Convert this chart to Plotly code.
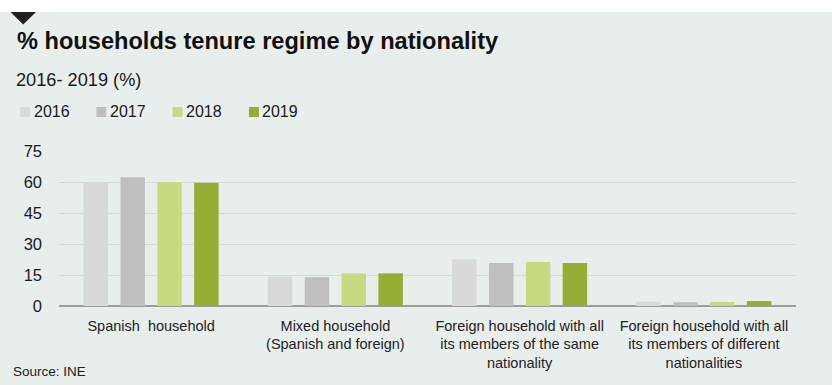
import plotly.graph_objects as go

# Household tenure regime share by nationality of members, 2016-2019 (%)
categories = [
    "Spanish  household",
    "Mixed household<br>(Spanish and foreign)",
    "Foreign household with all<br>its members of the same<br>nationality",
    "Foreign household with all<br>its members of different<br>nationalities",
]
years = ["2016", "2017", "2018", "2019"]
values_2016 = [60.0, 14.2, 22.6, 2.1]
values_2017 = [62.3, 13.9, 20.8, 1.8]
values_2018 = [59.9, 15.8, 21.3, 1.9]
values_2019 = [59.6, 15.8, 20.8, 2.4]
series = [values_2016, values_2017, values_2018, values_2019]
colors = ["#d9d9d9", "#bfbfbf", "#c8da80", "#96ae34"]
y_ticks = [0, 15, 30, 45, 60, 75]

title_text = "% households tenure regime by nationality"
subtitle_text = "2016- 2019 (%)"
source_text = "Source: INE"

BG = "#e8eeec"
FONT = "Liberation Sans, Arial, sans-serif"
W, H = 832, 385
L, R, T, B = 59, 796, 151, 306


def px_x(x):
    return (x - L) / (R - L)


def px_y(y):
    return (B - y) / (B - T)


fig = go.Figure()
for year, vals, col in zip(years, series, colors):
    fig.add_trace(go.Bar(
        name=year, x=categories, y=vals,
        marker=dict(color=col, line=dict(width=0)),
        hovertemplate="%{y}<extra>" + year + "</extra>",
    ))

shapes = [
    # white strip across the top
    dict(type="rect", xref="paper", yref="paper",
         x0=px_x(0), x1=px_x(W), y0=px_y(12), y1=px_y(-2),
         fillcolor="white", line=dict(width=0), layer="above"),
    # marker triangle
    dict(type="path", xref="paper", yref="paper",
         path=f"M {px_x(10.5)},{px_y(12)} L {px_x(36)},{px_y(12)} "
              f"L {px_x(23.2)},{px_y(24.5)} Z",
         fillcolor="#231f20", line=dict(width=0), layer="above"),
]
annotations = [
    dict(text=f"<b>{title_text}</b>", xref="paper", yref="paper",
         x=px_x(14.5), y=px_y(41), xanchor="left", yanchor="middle",
         showarrow=False, font=dict(family=FONT, size=23.6, color="#111111")),
    dict(text=subtitle_text, xref="paper", yref="paper",
         x=px_x(14), y=px_y(80), xanchor="left", yanchor="middle",
         showarrow=False, font=dict(family=FONT, size=18.2, color="#1a1a1a")),
    dict(text=source_text, xref="paper", yref="paper",
         x=px_x(11), y=px_y(371), xanchor="left", yanchor="middle",
         showarrow=False, font=dict(family=FONT, size=13.5, color="#222222")),
]

# legend row: swatch + label per year
step = 76.3
for i, (year, col) in enumerate(zip(years, colors)):
    x0 = 20 + step * i
    shapes.append(dict(type="rect", xref="paper", yref="paper",
                       x0=px_x(x0), x1=px_x(x0 + 10),
                       y0=px_y(117), y1=px_y(107),
                       fillcolor=col, line=dict(width=0)))
    annotations.append(dict(text=year, xref="paper", yref="paper",
                            x=px_x(x0 + 11.5), y=px_y(111.5),
                            xanchor="left", yanchor="middle", showarrow=False,
                            font=dict(family=FONT, size=16, color="#1a1a1a")))

fig.update_layout(
    width=W, height=H,
    margin=dict(l=L, r=W - R, t=T, b=H - B, pad=0),
    paper_bgcolor=BG, plot_bgcolor=BG,
    barmode="group", bargap=0.2, bargroupgap=0.336,
    showlegend=False,
    font=dict(family=FONT, color="#222222"),
    shapes=shapes, annotations=annotations,
)
fig.update_xaxes(
    showgrid=False, showline=False, zeroline=False,
    tickfont=dict(family=FONT, size=14.5, color="#222222"),
    ticks="", ticklabelstandoff=9,
)
fig.update_yaxes(
    range=[0, 75], tickvals=y_ticks,
    showgrid=True, gridcolor="#d5dad8", gridwidth=1.2,
    zeroline=True, zerolinecolor="#9c9c9c", zerolinewidth=2,
    showline=False, ticks="", ticklabelstandoff=16,
    tickfont=dict(family=FONT, size=16.5, color="#1a1a1a"),
)

fig.write_html("out.html")
